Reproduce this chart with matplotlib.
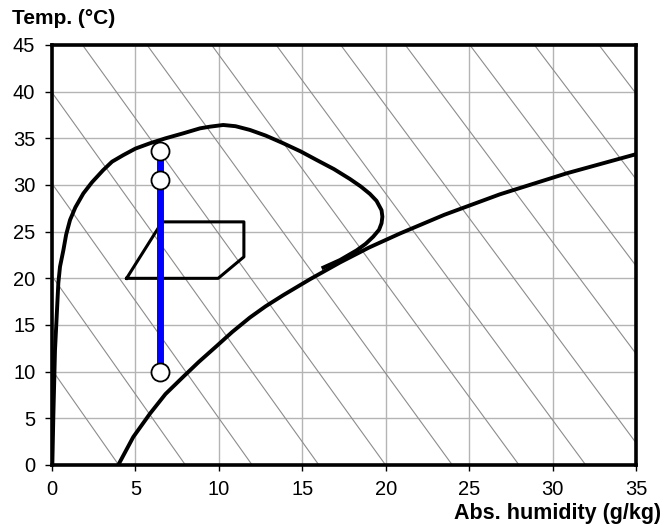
import matplotlib as mp
mp.use("Agg")
mp.rcParams.update({
    "font.family": ["Liberation Sans", "DejaVu Sans"],
    "font.size": 14.5,
})
import matplotlib.pyplot as plt
import numpy as np

# envelope curve (upper limit)
env_x = [0.02, 0.08, 0.18, 0.38, 0.48, 0.68, 0.85, 1.08, 1.4, 1.88, 2.4, 3.07, 3.6,
         4.27, 5.0, 5.87, 6.8, 7.87, 8.87, 9.47, 10.26, 11.0, 11.86, 12.8, 13.86,
         14.9, 15.86, 16.9, 17.85, 18.5, 19.05, 19.45, 19.75, 19.8, 19.75, 19.6,
         19.25, 18.8, 18.26, 17.26, 16.16]
env_y = [0.0, 5.2, 12.3, 19.5, 21.25, 23.0, 24.7, 26.25, 27.6, 29.1, 30.3, 31.6, 32.5,
         33.2, 33.9, 34.47, 35.0, 35.54, 36.07, 36.25, 36.43, 36.3, 35.9, 35.3, 34.47,
         33.6, 32.68, 31.7, 30.65, 29.85, 29.05, 28.3, 27.3, 26.6, 25.9, 25.2,
         24.46, 23.7, 23.0, 21.96, 21.07]

# lower curve
low_x = [3.97, 4.87, 5.87, 6.8, 7.87, 8.8, 9.87, 10.8, 11.86, 12.8, 13.86, 15.46,
         17.26, 19.0, 20.85, 23.5, 26.84, 30.84, 35.0]
low_y = [0.0, 3.0, 5.5, 7.6, 9.46, 11.05, 12.75, 14.25, 15.8, 17.0, 18.2, 19.9,
         21.7, 23.3, 24.8, 26.8, 29.0, 31.25, 33.3]

# comfort zone
zone_x = [4.47, 9.96, 11.5, 11.5, 6.6, 4.47]
zone_y = [20.0, 20.0, 22.3, 26.05, 26.05, 20.0]

# process line
proc_x = [6.5, 6.5, 6.5]
proc_y = [33.6, 30.5, 10.0]

# enthalpy lines (kJ/kg)
enth = np.arange(10, 140, 10)

fig = plt.figure(figsize=(6.64, 5.26), dpi=100)
ax = fig.add_axes([52/664, 61/526, 584/664, 420/526])

for h in enth:
    t = np.array([0.0, 45.0])
    x = (h - 1.006*t) / (2.501 + 0.00186*t)
    ax.plot(x, t, c="#8c8c8c", lw=0.8, zorder=1)

ax.plot(env_x, env_y, c="k", lw=2.8, zorder=3, solid_capstyle="butt", solid_joinstyle="round")
ax.plot(low_x, low_y, c="k", lw=2.8, zorder=3, solid_capstyle="butt", solid_joinstyle="round")
ax.plot(zone_x, zone_y, c="k", lw=2.2, zorder=3)
ax.plot(proc_x[:1] + proc_x[-1:], proc_y[:1] + proc_y[-1:], c="#0000ff", lw=5, zorder=4)
ax.plot(proc_x, proc_y, ls="none", marker="o", ms=13, mfc="w", mec="k", mew=1.3, zorder=5)

ax.set_xlim(0, 35)
ax.set_ylim(0, 45)
ax.set_xticks(range(0, 36, 5))
ax.set_yticks(range(0, 46, 5))
ax.grid(c="#b4b4b4", lw=1)
ax.set_axisbelow(True)
for s in ax.spines.values():
    s.set_linewidth(2.6)
ax.tick_params(axis="x", length=4.5, width=1, pad=6.5, labelsize=14.5)
ax.tick_params(axis="y", length=5, width=1, pad=7, labelsize=14.5)

fig.text(12/664, 1 - 18/526, "Temp. (°C)", fontsize=15, fontweight="bold", va="center")
fig.text(661/664, 1 - 513/526, "Abs. humidity (g/kg)", fontsize=15.5, fontweight="bold",
         va="center", ha="right")

fig.savefig("out.png", dpi=100)
